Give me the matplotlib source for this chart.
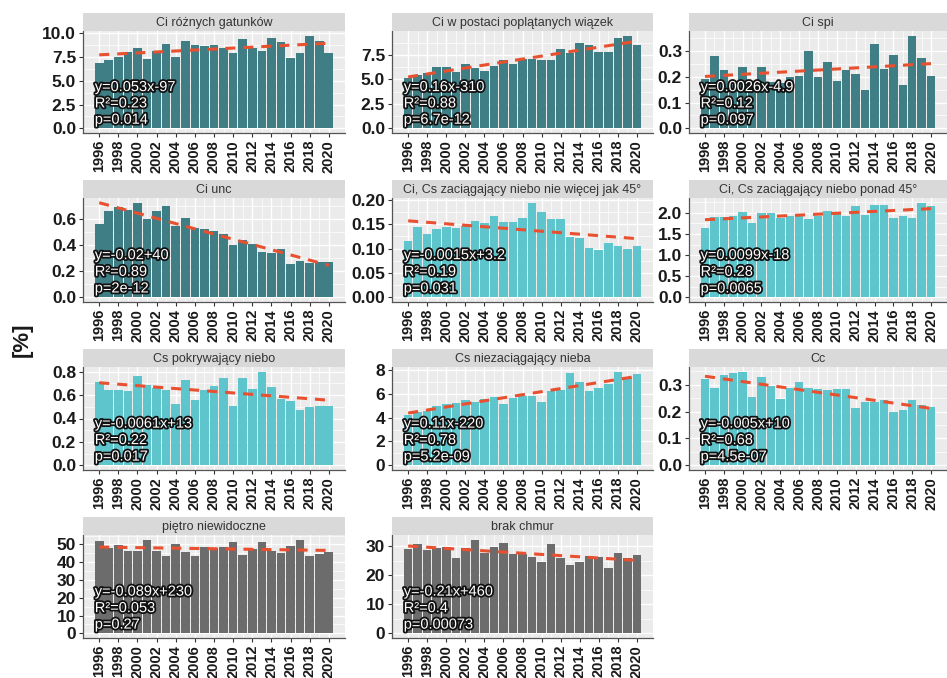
import numpy as np
import matplotlib
matplotlib.use("Agg")
import matplotlib.pyplot as plt
import matplotlib.patheffects as pe

plt.rcParams['font.family'] = ['Liberation Sans', 'DejaVu Sans']

years = list(range(1996, 2021))
year_ticks = list(range(1996, 2021, 2))

titles = ["Ci różnych gatunków", "Ci w postaci poplątanych wiązek", "Ci spi",
          "Ci unc", "Ci, Cs zaciągający niebo nie więcej jak 45°",
          "Ci, Cs zaciągający niebo ponad 45°",
          "Cs pokrywający niebo", "Cs niezaciągający nieba", "Cc",
          "piętro niewidoczne", "brak chmur"]

ci_rozne = [6.85, 7.2, 7.55, 8.0, 8.5, 7.3, 8.1, 8.9, 7.55, 9.15, 8.8, 8.7, 8.8,
            8.5, 7.9, 9.4, 8.5, 8.1, 9.5, 9.05, 7.4, 7.9, 9.75, 9.2, 7.9]
ci_wiazki = [5.1, 5.4, 5.6, 6.3, 6.25, 5.75, 6.6, 6.2, 5.8, 6.35, 6.95, 6.6, 7.05,
             7.05, 6.95, 6.95, 8.1, 7.65, 8.7, 8.5, 7.75, 7.8, 9.2, 9.45, 8.5]
ci_spi = [0.19, 0.28, 0.225, 0.17, 0.238, 0.18, 0.238, 0.18, 0.175, 0.2, 0.205, 0.30,
          0.2, 0.258, 0.185, 0.227, 0.21, 0.15, 0.328, 0.23, 0.284, 0.17, 0.36,
          0.273, 0.205]
ci_unc = [0.56, 0.66, 0.686, 0.667, 0.717, 0.6, 0.66, 0.694, 0.547, 0.607, 0.53,
          0.52, 0.503, 0.48, 0.40, 0.437, 0.41, 0.345, 0.34, 0.366, 0.254, 0.28,
          0.26, 0.27, 0.27]
cics_do45 = [0.115, 0.145, 0.129, 0.14, 0.145, 0.142, 0.147, 0.156, 0.152, 0.166,
             0.154, 0.154, 0.163, 0.194, 0.175, 0.161, 0.161, 0.123, 0.121, 0.102,
             0.098, 0.112, 0.105, 0.10, 0.105]
cics_pow45 = [1.63, 1.89, 1.89, 1.92, 2.02, 1.77, 2.0, 2.0, 1.88, 1.92, 1.98, 1.86,
              1.92, 2.04, 2.0, 1.92, 2.16, 1.96, 2.19, 2.19, 1.88, 1.92, 1.88,
              2.24, 2.16]
cs_pokr = [0.714, 0.647, 0.647, 0.633, 0.765, 0.685, 0.662, 0.647, 0.527, 0.728,
           0.56, 0.647, 0.68, 0.748, 0.506, 0.742, 0.656, 0.80, 0.67, 0.57, 0.547,
           0.47, 0.50, 0.51, 0.51]
cs_niezac = [4.2, 4.5, 4.6, 5.0, 5.12, 5.2, 5.5, 5.35, 5.58, 5.7, 5.12, 5.64, 5.78,
             5.78, 5.35, 6.2, 6.35, 7.72, 6.97, 6.2, 6.5, 6.83, 7.86, 7.4, 7.7]
cc = [0.323, 0.287, 0.338, 0.345, 0.349, 0.255, 0.328, 0.294, 0.249, 0.29, 0.309,
      0.287, 0.283, 0.281, 0.283, 0.283, 0.213, 0.236, 0.236, 0.243, 0.198, 0.207,
      0.245, 0.224, 0.217]
niewidoczne = [51.7, 48.1, 49.8, 46.2, 46.2, 52.3, 46.6, 43.3, 50.0, 45.6, 43.7, 48.5,
               48.1, 48.5, 51.3, 44.3, 47.5, 51.3, 46.2, 45.0, 49.4, 52.7, 43.7,
               44.5, 45.5]
brak = [29.2, 30.9, 28.9, 29.4, 29.8, 26.0, 29.4, 32.3, 27.7, 29.8, 31.2, 27.2, 27.2,
        26.3, 24.5, 30.7, 26.0, 23.6, 24.5, 26.8, 26.3, 22.4, 27.7, 26.0, 27.0]

series = [ci_rozne, ci_wiazki, ci_spi, ci_unc, cics_do45, cics_pow45,
          cs_pokr, cs_niezac, cc, niewidoczne, brak]

stats = [("y=0.053x-97", "R²=0.23", "p=0.014"),
         ("y=0.16x-310", "R²=0.88", "p=6.7e-12"),
         ("y=0.0026x-4.9", "R²=0.12", "p=0.097"),
         ("y=-0.02+40", "R²=0.89", "p=2e-12"),
         ("y=-0.0015x+3.2", "R²=0.19", "p=0.031"),
         ("y=0.0099x-18", "R²=0.28", "p=0.0065"),
         ("y=-0.0061x+13", "R²=0.22", "p=0.017"),
         ("y=0.11x-220", "R²=0.78", "p=5.2e-09"),
         ("y=-0.005x+10", "R²=0.68", "p=4.5e-07"),
         ("y=-0.089x+230", "R²=0.053", "p=0.27"),
         ("y=-0.21x+460", "R²=0.4", "p=0.00073")]

# y tick step and number of decimals for each panel
y_steps = [2.5, 2.5, 0.1, 0.2, 0.05, 0.5, 0.2, 2, 0.1, 10, 10]
y_decimals = [1, 1, 1, 1, 2, 1, 1, 0, 1, 0, 0]

teal, cyan, grey = '#3F7E84', '#5FC5CD', '#6C6C6C'
bar_colors = [teal] * 4 + [cyan] * 5 + [grey] * 2

W, H = 947, 678
col_left = [83, 392, 689]
col_width = [262, 261, 258]
panel_top = [31, 198, 367, 535]
panel_bottom = [133, 302, 470, 638]
strip_h = 18

fig = plt.figure(figsize=(W / 100, H / 100), dpi=100)

for i, vals in enumerate(series):
    r, c = divmod(i, 3)
    x0, w = col_left[c], col_width[c]
    ax = fig.add_axes([x0 / W, 1 - panel_bottom[r] / H, w / W,
                       (panel_bottom[r] - panel_top[r]) / H])
    ax.set_facecolor('#EBEBEB')
    ax.bar(years, vals, width=0.9, color=bar_colors[i], zorder=2)

    # linear trend over the whole period
    k, b = np.polyfit(years, vals, 1)
    fit = k * np.array(years) + b
    ax.plot(years, fit, color='#E8502F', lw=2.2, dashes=(3.3, 2.6), zorder=3)

    top = max(max(vals), fit.max())
    ax.set_ylim(-0.05 * top, top * 1.05)
    span = 2020.45 - 1995.55
    ax.set_xlim(1995.55 - 0.05 * span, 2020.45 + 0.05 * span)

    yt = np.arange(0, top * 1.05 + 1e-9, y_steps[i])
    ax.set_yticks(yt)
    ax.set_yticklabels([f"{v:.{y_decimals[i]}f}" for v in yt])
    minor = list(yt + y_steps[i] / 2)
    ax.set_yticks([m for m in minor if m < top * 1.05], minor=True)
    ax.set_xticks(year_ticks)
    ax.set_xticklabels([str(y) for y in year_ticks], rotation=90)
    ax.set_xticks(list(range(1997, 2020, 2)), minor=True)

    ax.grid(True, which='major', color='white', lw=1.0, zorder=0)
    ax.grid(True, which='minor', color='white', lw=0.5, zorder=0)
    ax.set_axisbelow(True)
    ax.tick_params(axis='both', which='major', length=3, width=0.8,
                   color='#333333', pad=2)
    ax.tick_params(axis='both', which='minor', length=0)
    ax.tick_params(axis='y', labelsize=12.5)
    ax.tick_params(axis='x', labelsize=10.5)
    for lab in ax.get_xticklabels() + ax.get_yticklabels():
        lab.set_fontweight('bold')
        lab.set_color('#1A1A1A')
    for s in ['top', 'right']:
        ax.spines[s].set_visible(False)
    for s in ['left', 'bottom']:
        ax.spines[s].set_color('#555555')
        ax.spines[s].set_linewidth(0.9)

    for txt, yy in zip(stats[i], [0.45, 0.29, 0.13]):
        ax.text(0.045, yy, txt, transform=ax.transAxes, ha='left', va='center',
                fontsize=10.5, color='white', zorder=5,
                path_effects=[pe.withStroke(linewidth=2.6, foreground='#111111')])

    sax = fig.add_axes([x0 / W, 1 - panel_top[r] / H, w / W, strip_h / H])
    sax.set_facecolor('#D9D9D9')
    sax.set_xticks([])
    sax.set_yticks([])
    for s in sax.spines.values():
        s.set_visible(False)
    sax.text(0.5, 0.45, titles[i], transform=sax.transAxes, ha='center',
             va='center', fontsize=9, color='#333333')

fig.text(22 / W, 1 - 340 / H, "[%]", rotation=90, ha='center', va='center',
         fontsize=16, fontweight='bold', color='#1A1A1A')

fig.savefig('out.png', dpi=100, facecolor='white')
